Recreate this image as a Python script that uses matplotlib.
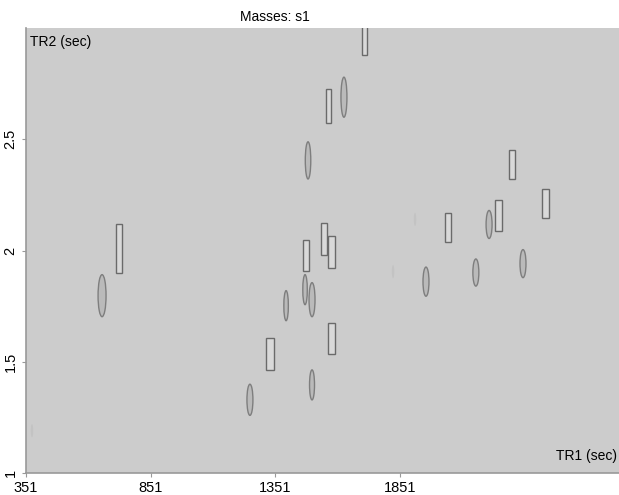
import matplotlib
matplotlib.use('Agg')
import matplotlib.pyplot as plt
from matplotlib.patches import Ellipse, Rectangle

# ─── Data ────────────────────────────────────────────────────────────────────
# rectangular peaks: centre TR1, width, TR2 bottom, TR2 top
RECT_X  = [1710, 1564, 1546, 1576, 1474, 1576, 1329,  724, 2300, 2434, 2246, 2043]
RECT_W  = [  20,   22,   24,   26,   24,   26,   30,   24,   24,   26,   26,   24]
RECT_Y0 = [2.878, 2.572, 1.982, 1.923, 1.910, 1.536, 1.464, 1.901, 2.320, 2.144, 2.086, 2.036]
RECT_Y1 = [3.010, 2.725, 2.122, 2.063, 2.045, 1.676, 1.608, 2.117, 2.450, 2.275, 2.225, 2.167]

# elliptical peaks: centre TR1, centre TR2, width, height
ELL_X = [1626, 1482, 1470, 1498, 1394, 1498, 1249,  656, 2208, 2344, 2155, 1955]
ELL_Y = [2.689, 2.405, 1.824, 1.779, 1.752, 1.396, 1.329, 1.797, 2.117, 1.941, 1.901, 1.860]
ELL_W = [  24,   22,   18,   24,   18,   20,   24,   32,   24,   24,   24,   24]
ELL_H = [0.180, 0.167, 0.135, 0.153, 0.135, 0.135, 0.140, 0.189, 0.126, 0.126, 0.122, 0.131]

# very faint peaks
FAINT_X = [1911, 1823, 375]
FAINT_Y = [2.14, 1.905, 1.19]

XTICKS = [351, 851, 1351, 1851]
YTICKS = [1, 1.5, 2, 2.5]

# ─── Figure ──────────────────────────────────────────────────────────────────
plt.rcParams["font.family"] = "Liberation Sans"

fig = plt.figure(figsize=(6.19, 4.95), dpi=100)
ax = fig.add_axes([26 / 619, 22 / 495, 593 / 619, 445 / 495])
ax.set_facecolor("#cccccc")

for x, w, y0, y1 in zip(RECT_X, RECT_W, RECT_Y0, RECT_Y1):
    ax.add_patch(Rectangle((x - w / 2, y0), w, y1 - y0,
                           facecolor="#d9d9d9", edgecolor="#6a6a6a", lw=1.0))

for x, y, w, h in zip(ELL_X, ELL_Y, ELL_W, ELL_H):
    ax.add_patch(Ellipse((x, y), w, h,
                         facecolor="#bababa", edgecolor="#7e7e7e", lw=1.0))

for x, y in zip(FAINT_X, FAINT_Y):
    ax.add_patch(Ellipse((x, y), 10, 0.06,
                         facecolor="#bdbdbd", edgecolor="none", alpha=0.6))

ax.set_xlim(351, 2729)
ax.set_ylim(1, 3)
ax.set_xticks(XTICKS)
ax.set_xticklabels([str(t) for t in XTICKS])
ax.set_yticks(YTICKS)
ax.set_yticklabels(["1", "1.5", "2", "2.5"], rotation=90, va="center")
ax.tick_params(colors="#999999", labelcolor="black", labelsize=10.5,
               length=3, width=0.8, pad=3)

for s in ["top", "right"]:
    ax.spines[s].set_visible(False)
for s in ["left", "bottom"]:
    ax.spines[s].set_color("#999999")
    ax.spines[s].set_linewidth(1.2)

ax.text(0.006, 0.985, "TR2 (sec)", transform=ax.transAxes,
        ha="left", va="top", fontsize=10)
ax.text(0.997, 0.022, "TR1 (sec)", transform=ax.transAxes,
        ha="right", va="bottom", fontsize=10)
fig.text(275 / 619, 1 - 17 / 495, "Masses: s1", ha="center", va="center",
         fontsize=10)

fig.savefig("out.png", dpi=100)
